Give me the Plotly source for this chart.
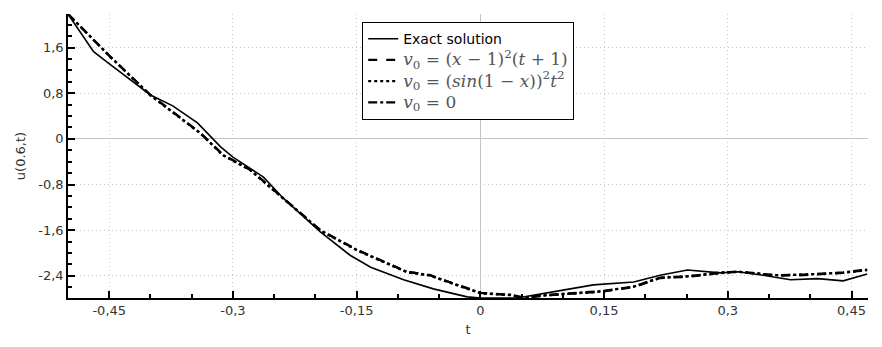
import plotly.graph_objects as go

# exact solution u(0.6,t)
t_exact = [-0.5, -0.469, -0.451, -0.400, -0.373, -0.343, -0.315, -0.300, -0.263, -0.239,
           -0.194, -0.158, -0.133, -0.093, -0.057, -0.016, 0.0, 0.045, 0.109, 0.137,
           0.186, 0.218, 0.251, 0.291, 0.312, 0.343, 0.376, 0.409, 0.440, 0.469]
u_exact = [2.19, 1.53, 1.33, 0.77, 0.58, 0.28, -0.14, -0.32, -0.67, -1.04,
           -1.63, -2.04, -2.25, -2.47, -2.63, -2.77, -2.79, -2.79, -2.63, -2.56,
           -2.51, -2.39, -2.30, -2.35, -2.33, -2.39, -2.47, -2.45, -2.49, -2.37]

# approximations
t_approx = [-0.5, -0.449, -0.400, -0.376, -0.340, -0.312, -0.279, -0.239, -0.194, -0.149,
            -0.089, -0.061, 0.0, 0.036, 0.052, 0.085, 0.146, 0.186, 0.218, 0.251,
            0.291, 0.312, 0.360, 0.392, 0.440, 0.469]
u_v1 = [2.19, 1.44, 0.77, 0.51, 0.11, -0.28, -0.54, -1.04, -1.60, -1.95,
        -2.33, -2.39, -2.70, -2.74, -2.79, -2.74, -2.68, -2.60, -2.44, -2.42,
        -2.35, -2.33, -2.40, -2.39, -2.35, -2.30]
u_v2 = [2.19, 1.44, 0.76, 0.50, 0.10, -0.29, -0.55, -1.05, -1.61, -1.96,
        -2.34, -2.40, -2.71, -2.74, -2.78, -2.74, -2.68, -2.59, -2.44, -2.41,
        -2.35, -2.33, -2.39, -2.38, -2.35, -2.30]
u_v3 = [2.19, 1.45, 0.77, 0.51, 0.11, -0.28, -0.54, -1.04, -1.60, -1.95,
        -2.33, -2.39, -2.70, -2.73, -2.78, -2.73, -2.67, -2.59, -2.43, -2.41,
        -2.34, -2.33, -2.39, -2.38, -2.34, -2.29]

x_ticks = [-0.45, -0.3, -0.15, 0, 0.15, 0.3, 0.45]
x_labels = ['-0,45', '-0,3', '-0,15', '0', '0,15', '0,3', '0,45']
y_ticks = [1.6, 0.8, 0, -0.8, -1.6, -2.4]
y_labels = ['1,6', '0,8', '0', '-0,8', '-1,6', '-2,4']

math = '<span style="font-family:DejaVu Serif;color:#555555;font-size:17px">%s</span>'

fig = go.Figure()
fig.add_trace(go.Scatter(x=t_exact, y=u_exact, mode='lines', name='Exact solution',
                         line=dict(color='black', width=1.6)))
fig.add_trace(go.Scatter(x=t_approx, y=u_v1, mode='lines',
                         name=math % '<i>v</i><sub>0</sub> = (<i>x</i> − 1)<sup>2</sup>(<i>t</i> + 1)',
                         line=dict(color='black', width=2.2, dash='dash')))
fig.add_trace(go.Scatter(x=t_approx, y=u_v2, mode='lines',
                         name=math % '<i>v</i><sub>0</sub> = (<i>sin</i>(1 − <i>x</i>))<sup>2</sup><i>t</i><sup>2</sup>',
                         line=dict(color='black', width=2.2, dash='dot')))
fig.add_trace(go.Scatter(x=t_approx, y=u_v3, mode='lines',
                         name=math % '<i>v</i><sub>0</sub> = 0',
                         line=dict(color='black', width=2.2, dash='dashdot')))

axis_common = dict(
    showline=True, linecolor='black', linewidth=1.5, mirror=False,
    showgrid=True, gridcolor='#c8c8c8', griddash='1px,3px', gridwidth=1,
    zeroline=True, zerolinecolor='#c4c4c4', zerolinewidth=1,
    tickfont=dict(family='DejaVu Sans', size=13, color='#333333'),
    automargin=False,
)

fig.update_xaxes(**axis_common, range=[-0.5, 0.47], tickvals=x_ticks, ticktext=x_labels,
                 ticks='inside', ticklen=7, tickcolor='black', tickwidth=2,
                 minor=dict(ticks='inside', ticklen=4, tickcolor='black', tickwidth=2,
                            dtick=0.05, tick0=0),
                 title=dict(text='t', font=dict(family='DejaVu Sans', size=13, color='#333333'), standoff=8))
fig.update_yaxes(**axis_common, range=[-2.79, 2.19], tickvals=y_ticks, ticktext=y_labels,
                 ticks='inside', ticklen=7, tickcolor='black', tickwidth=2,
                 minor=dict(ticks='inside', ticklen=4, tickcolor='black', tickwidth=2,
                            dtick=0.2, tick0=0),
                 title=dict(text='u(0.6,t)', font=dict(family='DejaVu Sans', size=13, color='#333333'), standoff=10))

# page body has an 8px margin, so the figure is sized to fit the window
fig.update_layout(
    template='none',
    width=874, height=339,
    margin=dict(l=60, r=14, t=6, b=49),
    plot_bgcolor='white', paper_bgcolor='white',
    font=dict(family='DejaVu Sans', size=13, color='black'),
    legend=dict(x=0.3675, y=0.972, xanchor='left', yanchor='top',
                bgcolor='white', bordercolor='black', borderwidth=1.2,
                font=dict(family='DejaVu Sans', size=14, color='black'),
                itemwidth=30, tracegroupgap=0),
    showlegend=True,
)

fig.write_html("out.html")
